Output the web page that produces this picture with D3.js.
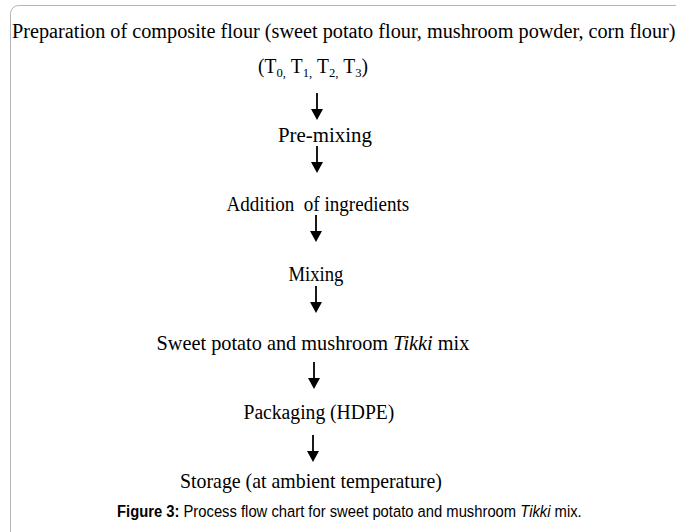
<!DOCTYPE html>
<html>
<head>
<meta charset="utf-8">
<script src="https://cdn.jsdelivr.net/npm/d3@7"></script>
<style>
  body { margin: 0; background: #fff; }
  .serif { font-family: "Liberation Serif", "Times New Roman", Times, serif; }
  .sans { font-family: "Liberation Sans", Arial, Helvetica, sans-serif; }
</style>
</head>
<body>
<div id="chart"></div>
<script>
// flow steps, top to bottom
var header = "Preparation of composite flour (sweet potato flour, mushroom powder, corn flour)";
var treatments = ["0", "1", "2", "3"];
var steps = ["Pre-mixing", "Addition  of ingredients", "Mixing", "Sweet potato and mushroom |Tikki| mix", "Packaging (HDPE)", "Storage (at ambient temperature)"];
var caption = ["Figure 3:", " Process flow chart for sweet potato and mushroom ", "Tikki", " mix."];

// layout
var stepX = [325, 318, 316, 313, 319, 311];
var stepW = [94, 183, 55, 313, 151, 262];
var arrowX = [317, 317, 316, 316, 314, 313];
var arrowTop = [93, 146, 215, 286, 362, 435];
var arrowLen = 27;

var width = 676, height = 532;

var svg = d3.select("#chart")
  .append("svg")
  .attr("width", width)
  .attr("height", height);

// frame
svg.append("rect")
  .attr("x", 10.5).attr("y", 5.5)
  .attr("width", 700).attr("height", 600)
  .attr("rx", 8)
  .attr("fill", "none")
  .attr("stroke", "#b4b4b4")
  .attr("stroke-width", 1);

var y = d3.scalePoint()
  .domain(d3.range(steps.length + 1))
  .range([73, 488]);

// nudge a text horizontally so it spans w pixels from x0
function fit(g, x0, yb, w) {
  var bw = g.node().getBBox().width;
  g.attr("transform", "translate(" + x0 + "," + yb + ") scale(" + (w / bw) + ",1)");
}

// header line
var h = svg.append("g");
h.append("text").attr("class", "serif").style("font-size", "20px").text(header);
fit(h, 12, 38, 664);

// (T0, T1, T2, T3)
var tg = svg.append("g");
var tt = tg.append("text").attr("class", "serif").style("font-size", "20px");
tt.append("tspan").text("(");
treatments.forEach(function(t, i) {
  tt.append("tspan").text("T");
  tt.append("tspan").attr("dy", 4).style("font-size", "13px").text(t + (i < treatments.length - 1 ? "," : ""));
  tt.append("tspan").attr("dy", -4).text(i < treatments.length - 1 ? " " : ")");
});
fit(tg, 258, y(0), 109);

// steps
steps.forEach(function(s, i) {
  var g = svg.append("g");
  var t = g.append("text")
    .attr("class", "serif")
    .style("font-size", "20px")
    .style("white-space", "pre");
  s.split("|").forEach(function(part, k) {
    t.append("tspan").style("font-style", k % 2 ? "italic" : "normal").text(part);
  });
  fit(g, stepX[i] - stepW[i] / 2, y(i + 1), stepW[i]);
});

// arrows
var arrows = svg.append("g");
arrowTop.forEach(function(a, i) {
  var x = arrowX[i];
  arrows.append("line")
    .attr("x1", x).attr("x2", x)
    .attr("y1", a).attr("y2", a + arrowLen - 8)
    .attr("stroke", "#000")
    .attr("stroke-width", 1.8);
  arrows.append("path")
    .attr("d", d3.line()([[x - 6, a + arrowLen - 11], [x + 6, a + arrowLen - 11], [x, a + arrowLen]]))
    .attr("fill", "#000");
});

// caption
var cg = svg.append("g");
var cap = cg.append("text")
  .attr("class", "sans")
  .style("font-size", "16.5px")
  .style("white-space", "pre");
caption.forEach(function(c, i) {
  cap.append("tspan")
    .style("font-weight", i === 0 ? "bold" : "normal")
    .style("font-style", i === 2 ? "italic" : "normal")
    .text(c);
});
fit(cg, 117, 517, 465);
</script>
</body>
</html>
